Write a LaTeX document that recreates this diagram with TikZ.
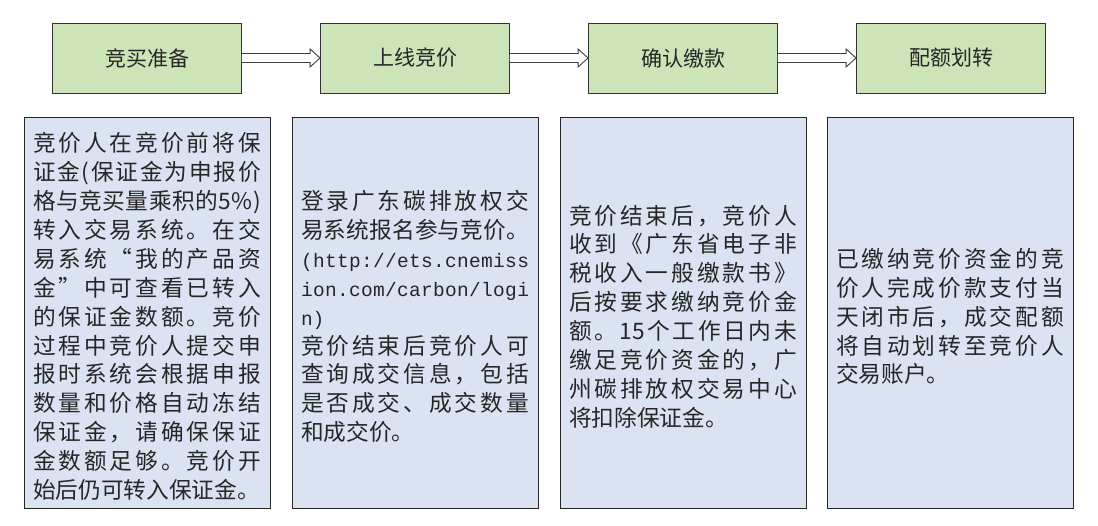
\documentclass[tikz,border=0pt]{standalone}
\usepackage{fontspec}
\newfontfamily\cjk{Noto Sans CJK SC}
\newfontfamily\cjkmono{Liberation Mono}
\usetikzlibrary{calc}
\definecolor{boxgreen}{RGB}{204,228,183}
\definecolor{boxblue}{RGB}{219,227,242}
\newdimen\linew \linew=228pt
\def\sprstop{\relax}
\def\spr#1{\leavevmode\hbox to\linew{\sprA#1\relax}}
\def\sprA#1{\hbox{#1}\sprB}
\def\sprB#1{\def\sprtmp{#1}\ifx\sprtmp\sprstop\else\hfil\hbox{#1}\expandafter\sprB\fi}
\tikzset{
  stage/.style={draw=black!80, line width=0.9pt, fill=boxgreen, minimum width=189pt,
    minimum height=70pt, inner sep=0pt, text=black!85, font=\cjk\fontsize{21}{25}\selectfont},
  descbox/.style={draw=black!85, line width=0.9pt, fill=boxblue, minimum width=246pt,
    minimum height=391pt, inner sep=0pt},
  desctext/.style={inner sep=0pt, text width=228pt, align=left, text=black!85,
    font=\cjk\fontsize{22.7}{28.9}\selectfont},
  harrow/.style={draw=black!75, line width=0.9pt, fill=white}
}
\begin{document}
\begin{tikzpicture}[x=1pt,y=-1pt]
\useasboundingbox (0,0) rectangle (1098,525);
\node[stage] (s1) at (147,58) {竞买准备};
\node[stage] (s2) at (415,58) {上线竞价};
\node[stage] (s3) at (683,58) {确认缴款};
\node[stage] (s4) at (951,58) {配额划转};
\foreach \a/\b in {s1/s2,s2/s3,s3/s4}{
  \draw[harrow] ($(\a.east)+(0,-4.5)$) -- ($(\b.west)+(-10,-4.5)$) -- ($(\b.west)+(-10,-9)$)
    -- (\b.west) -- ($(\b.west)+(-10,9)$) -- ($(\b.west)+(-10,4.5)$) -- ($(\a.east)+(0,4.5)$);
}
\node[descbox] (d1) at (147,312.5) {};
\node[descbox] (d2) at (415,312.5) {};
\node[descbox] (d3) at (683,312.5) {};
\node[descbox] (d4) at (950,312.5) {};
\node[desctext] (t1) at ($(d1.center)+(0,4)$) {%
\spr{竞价人在竞价前将保}\\
\spr{证金(保证金为申报价}\\
\spr{格与竞买量乘积的5\%)}\\
\spr{转入交易系统。在交}\\
\spr{易系统“我的产品资}\\
\spr{金”中可查看已转入}\\
\spr{的保证金数额。竞价}\\
\spr{过程中竞价人提交申}\\
\spr{报时系统会根据申报}\\
\spr{数量和价格自动冻结}\\
\spr{保证金，请确保保证}\\
\spr{金数额足够。竞价开}\\
始后仍可转入保证金。};
\node[desctext] (t2) at ($(d2.center)+(0,4)$) {%
\spr{登录广东碳排放权交}\\
\spr{易系统报名参与竞价。}\\
{\cjkmono\fontsize{19.5}{28.9}\selectfont\spr{(http://ets.cnemiss}}\\
{\cjkmono\fontsize{19.5}{28.9}\selectfont\spr{ion.com/carbon/logi}}\\
{\cjkmono\fontsize{19.5}{28.9}\selectfont n)}\\
\spr{竞价结束后竞价人可}\\
\spr{查询成交信息，包括}\\
\spr{是否成交、成交数量}\\
和成交价。};
\node[desctext] (t3) at ($(d3.center)+(0,4)$) {%
\spr{竞价结束后，竞价人}\\
\spr{收到《广东省电子非}\\
\spr{税收入一般缴款书》}\\
\spr{后按要求缴纳竞价金}\\
\spr{额。{15}个工作日内未}\\
\spr{缴足竞价资金的，广}\\
\spr{州碳排放权交易中心}\\
将扣除保证金。};
\node[desctext] (t4) at ($(d4.center)+(0,4)$) {%
\spr{已缴纳竞价资金的竞}\\
\spr{价人完成价款支付当}\\
\spr{天闭市后，成交配额}\\
\spr{将自动划转至竞价人}\\
交易账户。};
\end{tikzpicture}
\end{document}
